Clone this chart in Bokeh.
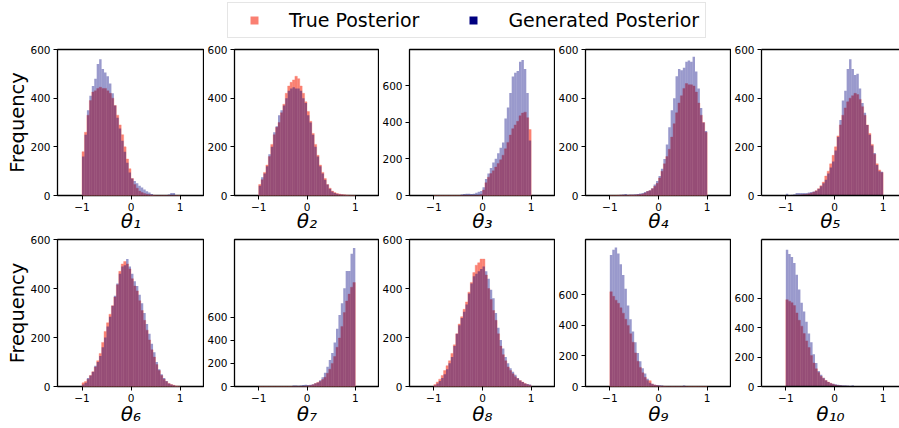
import math
import numpy as np
from bokeh.plotting import figure
from bokeh.layouts import column, row
from bokeh.models import (Range1d, FixedTicker, Legend, LegendItem,
                          LinearAxis, CustomJSTickFormatter)
from bokeh.embed import file_html
from bokeh.resources import INLINE

# ---------------- data (histogram counts per bin, bins of width 0.05 on [-1, 1]) ----------------
BIN_START = -1.0
BIN_WIDTH = 0.05
N_BINS = 40

theta1_true = [180, 260, 330, 390, 425, 430, 440, 445, 440, 440, 430, 420, 400, 370, 330, 290, 250, 200, 150, 110,
               70, 45, 30, 18, 12, 8, 5, 3, 2, 1, 0, 0, 0, 0, 0, 0, 0, 0, 0, 0]
theta1_gen = [160, 250, 350, 410, 450, 480, 540, 560, 520, 505, 490, 460, 420, 370, 320, 275, 225, 180, 135, 95,
              70, 60, 50, 40, 33, 25, 17, 12, 6, 2, 1, 1, 1, 1, 2, 4, 10, 10, 2, 0]

theta2_true = [45, 65, 95, 125, 160, 210, 250, 280, 300, 340, 375, 420, 450, 465, 475, 490, 480, 450, 420, 385,
               345, 305, 255, 210, 165, 125, 95, 70, 45, 30, 18, 12, 8, 6, 4, 3, 2, 1, 0, 0]
theta2_gen = [40, 75, 90, 120, 170, 200, 260, 285, 330, 350, 370, 400, 430, 440, 445, 440, 440, 430, 400, 380,
              330, 300, 250, 200, 160, 120, 90, 65, 45, 28, 16, 10, 7, 5, 4, 3, 2, 1, 0, 0]

theta3_true = [0, 0, 0, 0, 0, 0, 0, 0, 0, 0, 0, 0, 0, 0, 0, 0, 0, 0, 0, 5,
               30, 70, 100, 120, 135, 155, 175, 195, 220, 255, 290, 330, 365, 385, 405, 435, 450, 455, 425, 360]
theta3_gen = [0, 0, 0, 0, 0, 0, 0, 0, 0, 0, 0, 5, 8, 10, 10, 8, 10, 15, 20, 25,
              45, 90, 120, 150, 180, 200, 230, 260, 290, 420, 480, 560, 650, 670, 680, 730, 740, 690, 560, 300]

theta4_true = [0, 0, 0, 1, 1, 1, 1, 1, 2, 2, 2, 3, 4, 6, 10, 16, 20, 28, 38, 50,
               72, 100, 130, 160, 190, 240, 295, 340, 380, 410, 440, 460, 455, 455, 450, 425, 380, 330, 300, 260]
theta4_gen = [0, 0, 0, 2, 3, 4, 6, 3, 4, 4, 5, 6, 8, 10, 14, 18, 22, 30, 45, 60,
              80, 110, 150, 210, 280, 350, 400, 490, 520, 515, 525, 550, 555, 550, 570, 510, 440, 360, 300, 265]

theta5_true = [0, 0, 0, 0, 1, 2, 3, 4, 5, 7, 10, 14, 20, 28, 40, 55, 80, 100, 130, 165,
               200, 245, 290, 330, 360, 385, 400, 410, 420, 415, 395, 365, 330, 290, 255, 210, 170, 130, 105, 95]
theta5_gen = [7, 2, 3, 5, 10, 10, 10, 10, 10, 12, 14, 16, 20, 28, 38, 50, 65, 90, 115, 140,
              185, 240, 310, 390, 430, 520, 560, 520, 495, 500, 440, 380, 340, 290, 250, 205, 175, 125, 100, 98]

theta6_true = [15, 20, 30, 45, 60, 80, 105, 135, 180, 225, 260, 295, 330, 365, 415, 470, 500, 510, 500, 480,
               440, 410, 390, 350, 310, 270, 230, 190, 150, 120, 90, 65, 45, 30, 20, 12, 8, 5, 2, 1]
theta6_gen = [8, 15, 35, 45, 60, 85, 100, 125, 160, 200, 245, 285, 330, 370, 420, 460, 490, 495, 520, 490,
              460, 430, 410, 375, 340, 300, 255, 215, 175, 140, 100, 70, 50, 35, 22, 12, 8, 5, 2, 1]

theta7_true = [0, 0, 0, 0, 0, 0, 0, 0, 0, 0, 0, 0, 0, 0, 0, 0, 0, 0, 0, 2,
               5, 8, 15, 25, 35, 45, 60, 80, 115, 150, 200, 260, 340, 420, 520, 640, 740, 800, 860, 900]
theta7_gen = [0, 0, 0, 0, 0, 0, 0, 0, 0, 0, 0, 0, 0, 0, 8, 8, 6, 8, 12, 15,
              14, 16, 20, 28, 35, 55, 80, 120, 170, 230, 290, 380, 500, 620, 720, 850, 1000, 1000, 1150, 1200]

theta8_true = [8, 18, 30, 45, 65, 85, 105, 135, 170, 215, 255, 285, 315, 345, 385, 425, 465, 495, 505, 520,
               520, 455, 400, 355, 310, 270, 215, 165, 130, 105, 80, 65, 52, 40, 32, 24, 18, 12, 8, 5]
theta8_gen = [5, 12, 22, 35, 50, 70, 95, 120, 165, 215, 250, 280, 305, 335, 380, 420, 450, 460, 470, 480,
              490, 470, 440, 395, 360, 300, 240, 190, 155, 120, 95, 75, 60, 48, 35, 25, 18, 12, 10, 8]

theta9_true = [620, 590, 565, 545, 515, 480, 440, 400, 345, 290, 220, 165, 125, 90, 60, 40, 38, 15, 10, 6,
               3, 2, 1, 0, 0, 0, 0, 0, 0, 0, 0, 0, 0, 0, 0, 0, 0, 0, 0, 0]
theta9_gen = [860, 895, 910, 870, 800, 730, 640, 530, 440, 360, 290, 220, 165, 120, 85, 50, 25, 18, 12, 10,
              8, 6, 4, 2, 2, 1, 1, 1, 1, 2, 6, 1, 0, 0, 0, 0, 0, 0, 0, 0]

theta10_true = [590, 580, 570, 550, 500, 450, 410, 360, 310, 265, 210, 160, 120, 95, 70, 55, 40, 30, 22, 15,
                10, 7, 5, 3, 2, 1, 0, 0, 0, 0, 0, 0, 0, 0, 0, 0, 0, 0, 0, 0]
theta10_gen = [930, 900, 880, 840, 760, 660, 570, 510, 440, 360, 300, 220, 160, 105, 80, 60, 42, 30, 22, 18,
               16, 12, 10, 9, 8, 6, 5, 8, 2, 0, 0, 0, 0, 0, 0, 0, 0, 0, 0, 0]

true_series = [theta1_true, theta2_true, theta3_true, theta4_true, theta5_true,
               theta6_true, theta7_true, theta8_true, theta9_true, theta10_true]
gen_series = [theta1_gen, theta2_gen, theta3_gen, theta4_gen, theta5_gen,
              theta6_gen, theta7_gen, theta8_gen, theta9_gen, theta10_gen]
x_labels = ["θ₁", "θ₂", "θ₃", "θ₄", "θ₅", "θ₆", "θ₇", "θ₈", "θ₉", "θ₁₀"]
y_max = [600, 600, 797, 600, 600, 600, 1273, 600, 962, 999]
x_ticks = [-1, 0, 1]
y_ticks = [0, 200, 400, 600]
legend_labels = ["True Posterior", "Generated Posterior"]
y_label = "Frequency"

# ---------------- style / layout ----------------
TRUE_COLOR = "#FA8072"
GEN_COLOR = "#000080"
FONT = "DejaVu Sans"
PAGE_W = 899
FRAME_W = 147
FRAME_LEFTS = [57, 232, 408, 584, 760]
X_LO, X_HI = -1.5, 1.5
LEGEND_H = 38
ROW_SPECS = [dict(top=11, frame=146, bottom=40, xlabel_standoff=-5),
             dict(top=4, frame=147, bottom=42, xlabel_standoff=-3)]

edges = BIN_START + BIN_WIDTH * np.arange(N_BINS + 1)
minus_fmt = CustomJSTickFormatter(code="return tick < 0 ? '\\u2212' + Math.abs(tick) : String(tick);")


def make_panel(i):
    r, c = divmod(i, 5)
    spec = ROW_SPECS[r]
    start = 0 if c == 0 else FRAME_LEFTS[c - 1] + FRAME_W
    left_border = FRAME_LEFTS[c] - start
    frame_w = min(FRAME_W, PAGE_W - FRAME_LEFTS[c])
    width = left_border + frame_w
    height = spec["top"] + spec["frame"] + spec["bottom"]
    x_end = X_LO + (X_HI - X_LO) * frame_w / FRAME_W
    cropped = frame_w < FRAME_W

    p = figure(width=width, height=height, x_range=Range1d(X_LO, x_end), y_range=Range1d(0, y_max[i]),
               output_backend="svg", toolbar_location=None,
               min_border_left=left_border, min_border_right=0,
               min_border_top=spec["top"], min_border_bottom=spec["bottom"])
    p.xgrid.visible = False
    p.ygrid.visible = False
    p.background_fill_color = "white"
    p.border_fill_color = "white"

    p.quad(left=edges[:-1], right=edges[1:], bottom=0, top=true_series[i],
           fill_color=TRUE_COLOR, line_color=TRUE_COLOR, line_width=0.4)
    p.quad(left=edges[:-1], right=edges[1:], bottom=0, top=gen_series[i],
           fill_color=GEN_COLOR, fill_alpha=0.4, line_color=None)

    for ax in (p.xaxis[0], p.yaxis[0]):
        ax.major_tick_out = 4
        ax.major_tick_in = 0
        ax.minor_tick_out = 0
        ax.minor_tick_in = 0
        ax.major_tick_line_color = "black"
        ax.major_tick_line_width = 1
        ax.major_label_text_font = FONT
        ax.major_label_text_font_size = "10.5px"
        ax.major_label_text_color = "black"
        ax.major_label_standoff = 3
        ax.axis_line_color = "black" if cropped else None
        ax.axis_line_width = 1.3
        ax.axis_label_text_font = FONT
        ax.axis_label_text_color = "black"
    p.xaxis.ticker = FixedTicker(ticks=x_ticks)
    p.xaxis.formatter = minus_fmt
    p.yaxis.ticker = FixedTicker(ticks=y_ticks)

    p.xaxis.axis_label = x_labels[i]
    p.xaxis.axis_label_text_font_size = "20px"
    p.xaxis.axis_label_text_font_style = "italic"
    p.xaxis.axis_label_standoff = spec["xlabel_standoff"]
    if c == 0:
        p.yaxis.major_label_text_line_height = 1.0
        p.yaxis.axis_label_text_line_height = 1.0
        p.yaxis.axis_label = y_label
        p.yaxis.axis_label_text_font_size = "19.5px"
        p.yaxis.axis_label_text_font_style = "normal"
        p.yaxis.axis_label_standoff = -2

    if cropped:
        p.outline_line_color = None
        p.add_layout(LinearAxis(ticker=FixedTicker(ticks=[]), major_tick_out=0, major_tick_in=0,
                                minor_tick_out=0, minor_tick_in=0, major_label_text_font_size="0px",
                                axis_line_color="black", axis_line_width=1.3), "above")
    else:
        p.outline_line_color = "black"
        p.outline_line_width = 1.3
        p.outline_line_alpha = 1
    return p


panels = [make_panel(i) for i in range(10)]

# ---------------- legend strip ----------------
lf = figure(width=PAGE_W, height=LEGEND_H, x_range=Range1d(0, 1), y_range=Range1d(0, 1),
            output_backend="svg", toolbar_location=None, x_axis_location=None, y_axis_location=None,
            min_border=0)
lf.xgrid.visible = False
lf.ygrid.visible = False
lf.outline_line_color = None
nan = [float("nan")]
r1 = lf.scatter(x=nan, y=nan, marker="square", size=7.5, fill_color=TRUE_COLOR, line_color=None)
r2 = lf.scatter(x=nan, y=nan, marker="square", size=7.5, fill_color=GEN_COLOR, line_color=None)
legend = Legend(items=[LegendItem(label=legend_labels[0], renderers=[r1]),
                       LegendItem(label=legend_labels[1], renderers=[r2])],
                orientation="horizontal", location=(227, 0), glyph_width=40, glyph_height=20,
                label_standoff=15, spacing=34, padding=6, margin=0,
                label_text_font=FONT, label_text_font_size="19px", label_text_color="black",
                border_line_color="#cccccc", border_line_width=1, background_fill_color="white",
                background_fill_alpha=1)
lf.add_layout(legend)

layout = column(lf, row(*panels[:5]), row(*panels[5:]))

with open("out.html", "w") as f:
    f.write(file_html(layout, INLINE))
